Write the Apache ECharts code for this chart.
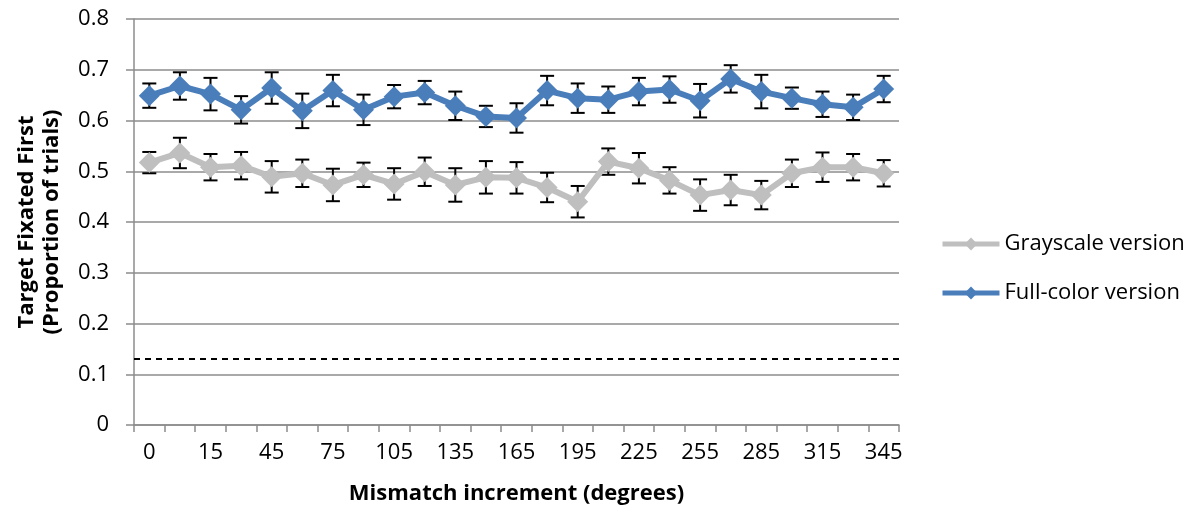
<!DOCTYPE html>
<html>
<head>
    <meta charset="utf-8"/>
    <title>ECharts</title>
    <script src="https://cdn.jsdelivr.net/npm/echarts@6/dist/echarts.min.js"></script>
    <style type="text/css">
        body{ margin:0; background:#fff; }
    </style>
</head>
<body>

<div id="main" style="width: 1196px;height:512px;"></div>
<script type="text/javascript">

    // mismatch increments (degrees); only every other label is shown
    var categories = ['0','7.5','15','30','45','60','75','90','105','120','135','150','165',
                      '180','195','210','225','240','255','270','285','300','315','330','345'];

    var grayMean = [0.517,0.536,0.508,0.511,0.489,0.496,0.473,0.493,0.475,0.499,0.473,0.488,0.487,
                    0.468,0.440,0.519,0.506,0.482,0.453,0.463,0.453,0.496,0.508,0.508,0.496];
    var grayErr  = [0.021,0.030,0.026,0.027,0.031,0.027,0.032,0.024,0.031,0.028,0.033,0.032,0.031,
                    0.029,0.031,0.026,0.030,0.026,0.031,0.030,0.028,0.027,0.029,0.026,0.026];

    var colorMean = [0.649,0.668,0.652,0.621,0.664,0.619,0.659,0.621,0.647,0.655,0.629,0.608,0.605,
                     0.659,0.644,0.641,0.657,0.661,0.639,0.682,0.657,0.644,0.632,0.626,0.662];
    var colorErr  = [0.024,0.027,0.032,0.027,0.031,0.034,0.031,0.030,0.023,0.023,0.028,0.021,0.029,
                     0.029,0.029,0.026,0.027,0.026,0.033,0.027,0.033,0.021,0.025,0.025,0.026];

    var chanceLevel = 0.133;

    var FONT = 'Open Sans';

    function errData(mean, err){
        var out = [];
        for (var i = 0; i < mean.length; i++) {
            out.push([i, mean[i], err[i]]);
        }
        return out;
    }

    function renderErr(params, api){
        var x = api.value(0), v = api.value(1), e = api.value(2);
        var top = api.coord([x, v + e]);
        var bot = api.coord([x, v - e]);
        var w = 7;
        var st = { stroke: '#000', lineWidth: 2 };
        return {
            type: 'group',
            children: [
                { type: 'line', shape: { x1: top[0], y1: top[1], x2: bot[0], y2: bot[1] }, style: st },
                { type: 'line', shape: { x1: top[0]-w, y1: top[1], x2: top[0]+w, y2: top[1] }, style: st },
                { type: 'line', shape: { x1: bot[0]-w, y1: bot[1], x2: bot[0]+w, y2: bot[1] }, style: st }
            ]
        };
    }

    var myChart = echarts.init(document.getElementById('main'));

    var option = {
        animation: false,
        grid: { left: 134, right: 297, top: 19, bottom: 87, containLabel: false },
        legend: {
            orient: 'vertical',
            left: 940,
            top: 233,
            padding: 0,
            itemWidth: 57,
            itemHeight: 16,
            itemGap: 27,
            lineStyle: { width: 5 },
            textStyle: { fontFamily: FONT, fontSize: 22, color: '#000' },
            data: ['Grayscale version', 'Full-color version']
        },
        xAxis: {
            type: 'category',
            data: categories,
            boundaryGap: true,
            name: 'Mismatch increment (degrees)',
            nameLocation: 'middle',
            nameGap: 58,
            nameTextStyle: { fontFamily: FONT, fontSize: 22, fontWeight: 'bold', color: '#000' },
            axisLine: { lineStyle: { color: '#8c8c8c', width: 1.5 } },
            axisTick: { show: true, interval: 0, length: 7, lineStyle: { color: '#8c8c8c', width: 1.5 } },
            axisLabel: { interval: 1, margin: 17, fontFamily: FONT, fontSize: 22, color: '#000' },
            splitLine: { show: false }
        },
        yAxis: {
            type: 'value',
            min: 0,
            max: 0.8,
            interval: 0.1,
            name: 'Target Fixated First\n(Proportion of trials)',
            nameLocation: 'middle',
            nameGap: 70,
            nameRotate: 90,
            nameTextStyle: { fontFamily: FONT, fontSize: 22, fontWeight: 'bold', color: '#000', lineHeight: 25 },
            axisLine: { show: true, lineStyle: { color: '#8c8c8c', width: 1.5 } },
            axisTick: { show: true, length: 8, lineStyle: { color: '#8c8c8c', width: 1.5 } },
            axisLabel: { margin: 25, fontFamily: FONT, fontSize: 22, color: '#000' },
            splitLine: { lineStyle: { color: '#8c8c8c', width: 1.5 } }
        },
        series: [
            {
                name: 'Grayscale version',
                type: 'line',
                data: grayMean,
                z: 3,
                symbol: 'diamond',
                symbolSize: 21,
                showAllSymbol: true,
                lineStyle: { color: '#bfbfbf', width: 6 },
                itemStyle: { color: '#bfbfbf' },
                markLine: {
                    silent: true,
                    symbol: 'none',
                    label: { show: false },
                    lineStyle: { color: '#000', type: [6, 5], width: 1.8 },
                    data: [{ yAxis: chanceLevel }]
                }
            },
            {
                name: 'Full-color version',
                type: 'line',
                data: colorMean,
                z: 3,
                symbol: 'diamond',
                symbolSize: 21,
                showAllSymbol: true,
                lineStyle: { color: '#4a7ebb', width: 6 },
                itemStyle: { color: '#4a7ebb' }
            },
            {
                name: 'grayErr',
                type: 'custom',
                z: 2,
                renderItem: renderErr,
                encode: { x: 0, y: 1 },
                data: errData(grayMean, grayErr)
            },
            {
                name: 'colorErr',
                type: 'custom',
                z: 2,
                renderItem: renderErr,
                encode: { x: 0, y: 1 },
                data: errData(colorMean, colorErr)
            }
        ]
    };
    myChart.setOption(option);
</script>
</body>
</html>
